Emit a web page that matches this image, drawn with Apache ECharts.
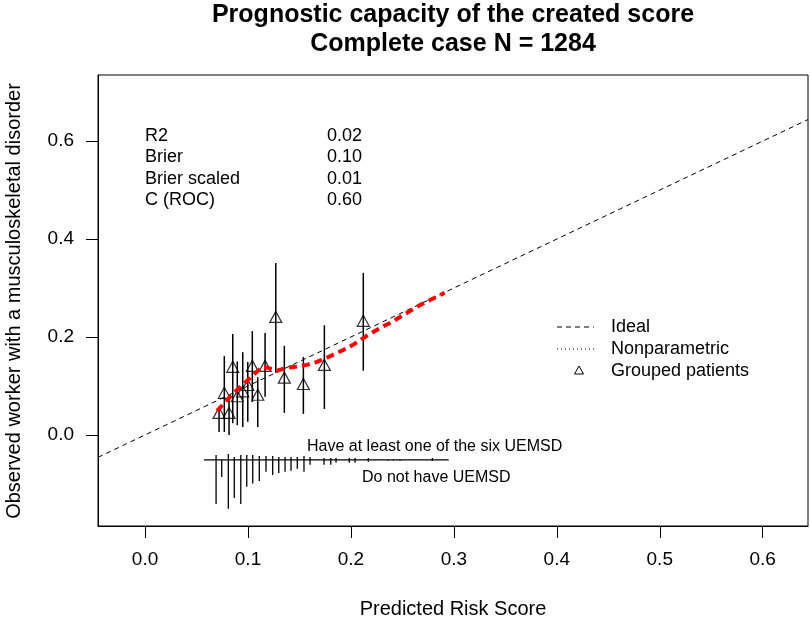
<!DOCTYPE html>
<html>
<head>
<meta charset="utf-8">
<script src="https://cdn.jsdelivr.net/npm/echarts@6/dist/echarts.min.js"></script>
<style>
  html, body { margin: 0; padding: 0; background: #fff; }
  #chart { width: 810px; height: 622px; }
</style>
</head>
<body>
<div id="chart"></div>
<script>
// axis ranges and ticks
var xMin = -0.0457, xMax = 0.644
var yMin = -0.186, yMax = 0.735
var xTicks = [0, 0.1, 0.2, 0.3, 0.4, 0.5, 0.6]
var yTicks = [0, 0.2, 0.4, 0.6]

// grouped patients: predicted, observed, CI low, CI high
var groupX = [0.0719, 0.0770, 0.0816, 0.0852, 0.0896, 0.0949, 0.0998, 0.1042, 0.1095, 0.1166, 0.1270, 0.1353, 0.1538, 0.1742, 0.2120]
var groupY = [0.045, 0.086, 0.045, 0.139, 0.079, 0.089, 0.102, 0.141, 0.082, 0.141, 0.241, 0.117, 0.104, 0.143, 0.233]
var groupLo = [0.006, 0.006, 0.000, 0.024, 0.020, 0.016, 0.027, 0.067, 0.016, 0.078, 0.127, 0.045, 0.043, 0.053, 0.131]
var groupHi = [0.057, 0.161, 0.076, 0.206, 0.150, 0.169, 0.149, 0.212, 0.118, 0.208, 0.351, 0.182, 0.159, 0.224, 0.331]

// nonparametric (loess) calibration curve
var npX = [0.0700, 0.0826, 0.0903, 0.1020, 0.1136, 0.1195, 0.1280, 0.1380, 0.1457, 0.1570, 0.1670, 0.1800, 0.1920, 0.2020, 0.2166, 0.2280, 0.2400, 0.2670, 0.2910]
var npY = [0.049, 0.078, 0.094, 0.116, 0.139, 0.137, 0.131, 0.137, 0.139, 0.143, 0.149, 0.161, 0.173, 0.184, 0.204, 0.218, 0.231, 0.265, 0.290]

// spike histogram of predictions (up = events, down = non-events)
var spikeBase = -0.051
var spikeFrom = 0.0573, spikeTo = 0.295
var spikeX = [0.0690, 0.0745, 0.0809, 0.0867, 0.0930, 0.0988, 0.1046, 0.1110, 0.1175, 0.1240, 0.1299, 0.1360, 0.1418, 0.1479, 0.1544, 0.1603, 0.1739, 0.1804, 0.1855, 0.1984, 0.2040, 0.2169, 0.2363, 0.2412, 0.2477, 0.2791]
var spikeUp = [0.010, 0.000, 0.012, 0.006, 0.010, 0.010, 0.010, 0.008, 0.008, 0.008, 0.006, 0.006, 0.006, 0.006, 0.008, 0.006, 0.004, 0.004, 0.004, 0.004, 0.004, 0.004, 0.000, 0.000, 0.000, 0.004]
var spikeDown = [0.090, 0.035, 0.100, 0.078, 0.090, 0.055, 0.048, 0.043, 0.024, 0.031, 0.027, 0.024, 0.022, 0.018, 0.024, 0.010, 0.010, 0.010, 0.006, 0.006, 0.006, 0.004, 0.002, 0.002, 0.002, 0.002]

// stats block
var statNames = ['R2', 'Brier', 'Brier scaled', 'C (ROC)']
var statValues = ['0.02', '0.10', '0.01', '0.60']

var font = 'Liberation Sans, Arial, sans-serif'
var chart = echarts.init(document.getElementById('chart'))

var groupData = groupX.map(function(x, i) { return [x, groupY[i]] })
var barData = groupX.map(function(x, i) { return [x, groupLo[i], groupHi[i]] })
var npData = npX.map(function(x, i) { return [x, npY[i]] })
var spikeData = spikeX.map(function(x, i) { return [x, spikeUp[i], spikeDown[i]] })

function txt(x, y, s, size, extra) {
  var style = { text: s, fontSize: size, fontFamily: font, fill: '#000', verticalAlign: 'middle' }
  for (var k in (extra || {})) style[k] = extra[k]
  return { type: 'text', x: x, y: y, style: style }
}

var graphics = [
  txt(453, 15, 'Prognostic capacity of the created score', 25, { fontWeight: 'bold', align: 'center' }),
  txt(453, 44, 'Complete case N = 1284', 25, { fontWeight: 'bold', align: 'center' }),
  txt(453, 609, 'Predicted Risk Score', 20, { align: 'center' }),
  txt(307, 447, 'Have at least one of the six UEMSD', 16),
  txt(362, 478, 'Do not have UEMSD', 16),
  // legend
  { type: 'line', shape: { x1: 557, y1: 327, x2: 594, y2: 327 }, style: { stroke: '#000', lineWidth: 1, lineDash: [5, 4] } },
  { type: 'line', shape: { x1: 557, y1: 349, x2: 594, y2: 349 }, style: { stroke: '#000', lineWidth: 1, lineDash: [1, 3] } },
  { type: 'polygon', shape: { points: [[579, 366], [583.5, 374], [574.5, 374]] }, style: { fill: 'none', stroke: '#000', lineWidth: 1 } },
  txt(611, 327, 'Ideal', 18),
  txt(611, 349, 'Nonparametric', 18),
  txt(611, 371, 'Grouped patients', 18)
]
var yTitle = txt(14, 301, 'Observed worker with a musculoskeletal disorder', 20, { align: 'center' })
yTitle.rotation = Math.PI / 2
graphics.push(yTitle)

statNames.forEach(function(name, i) {
  var y = 136 + i * 21.5
  graphics.push(txt(145, y, name, 18))
  graphics.push(txt(327, y, statValues[i], 18))
})

var option = {
  animation: false,
  backgroundColor: '#fff',
  grid: {
    left: 98, top: 75, right: 2, bottom: 96,
    show: true, borderColor: '#000', borderWidth: 1, backgroundColor: 'transparent'
  },
  xAxis: {
    type: 'value', min: xMin, max: xMax,
    axisLine: { show: true, onZero: false, lineStyle: { color: '#000', width: 1 } },
    axisTick: { show: true, length: 12, customValues: xTicks, lineStyle: { color: '#000', width: 1 } },
    axisLabel: {
      customValues: xTicks, margin: 24, fontSize: 19, fontFamily: font, color: '#000',
      formatter: function(v) { return v.toFixed(1) }
    },
    splitLine: { show: false }
  },
  yAxis: {
    type: 'value', min: yMin, max: yMax,
    axisLine: { show: true, onZero: false, lineStyle: { color: '#000', width: 1 } },
    axisTick: { show: true, length: 12, customValues: yTicks, lineStyle: { color: '#000', width: 1 } },
    axisLabel: {
      customValues: yTicks, margin: 24, fontSize: 19, fontFamily: font, color: '#000',
      formatter: function(v) { return v.toFixed(1) }
    },
    splitLine: { show: false }
  },
  graphic: graphics,
  series: [
    {
      name: 'Ideal', type: 'line', symbol: 'none', silent: true,
      data: [[xMin, xMin], [xMax, xMax]],
      lineStyle: { color: '#000', width: 1, type: [5, 4] }
    },
    {
      name: 'Nonparametric', type: 'line', symbol: 'none', silent: true,
      data: npData,
      lineStyle: { color: '#ff0000', width: 4, type: [8, 5] }
    },
    {
      name: 'CI', type: 'custom', silent: true,
      data: barData,
      renderItem: function(params, api) {
        var x = api.value(0)
        var p1 = api.coord([x, api.value(1)])
        var p2 = api.coord([x, api.value(2)])
        return { type: 'line', shape: { x1: p1[0], y1: p1[1], x2: p2[0], y2: p2[1] }, style: { stroke: '#000', lineWidth: 1.5 } }
      }
    },
    {
      name: 'Grouped patients', type: 'scatter', symbol: 'triangle', symbolSize: [12, 11],
      data: groupData,
      itemStyle: { color: 'rgba(0,0,0,0)', borderColor: '#000', borderWidth: 1.2 }
    },
    {
      name: 'Spike base', type: 'line', symbol: 'none', silent: true,
      data: [[spikeFrom, spikeBase], [spikeTo, spikeBase]],
      lineStyle: { color: '#000', width: 1.3 }
    },
    {
      name: 'Spikes', type: 'custom', silent: true,
      data: spikeData,
      renderItem: function(params, api) {
        var x = api.value(0)
        var top = api.coord([x, spikeBase + api.value(1)])
        var bot = api.coord([x, spikeBase - api.value(2)])
        return { type: 'line', shape: { x1: top[0], y1: top[1], x2: bot[0], y2: bot[1] }, style: { stroke: '#000', lineWidth: 1.3 } }
      }
    }
  ]
}
chart.setOption(option)
</script>
</body>
</html>
